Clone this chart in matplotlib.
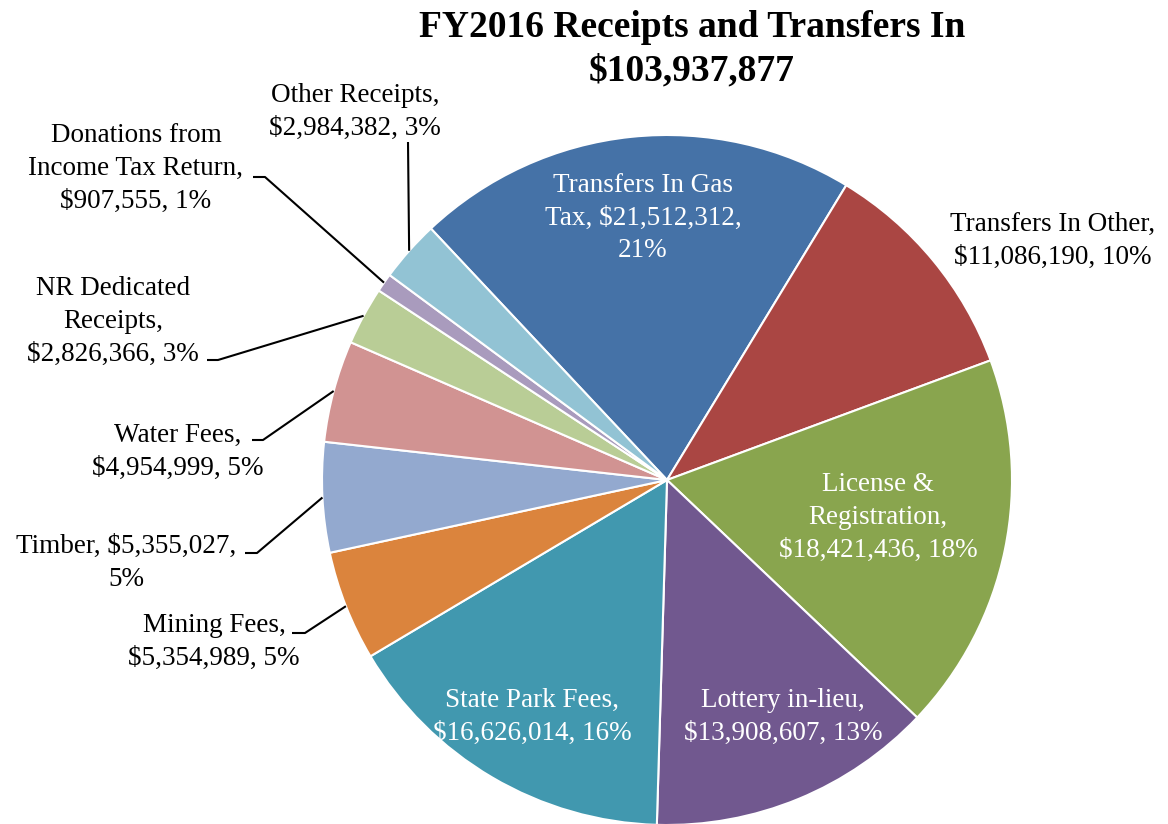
import matplotlib
matplotlib.use("Agg")
import matplotlib.pyplot as plt
import numpy as np

# data
names = ["Transfers In Gas\nTax", "Transfers In Other", "License &\nRegistration",
         "Lottery in-lieu", "State Park Fees", "Mining Fees", "Timber",
         "Water Fees", "NR Dedicated\nReceipts", "Donations from\nIncome Tax Return",
         "Other Receipts"]
values = [21512312, 11086190, 18421436, 13908607, 16626014, 5354989,
          5355027, 4954999, 2826366, 907555, 2984382]
# percentages as printed on the chart
pcts = [21, 10, 18, 13, 16, 5, 5, 5, 3, 1, 3]
colors = ["#4572A7", "#AA4643", "#89A54E", "#71588F", "#4198AF", "#DB843D",
          "#93A9CF", "#D19392", "#B9CD96", "#A99BBD", "#92C3D4"]
total = sum(values)

W, H = 1168, 824
cx, cy, R = 667, 480, 345

fig = plt.figure(figsize=(W / 100, H / 100), dpi=100)
ax = fig.add_axes([0, 0, 1, 1])

def Y(y):
    return H - y

wedges, _ = ax.pie(values, colors=colors, startangle=133.2, counterclock=False,
                   center=(cx, Y(cy)), radius=R, frame=True,
                   wedgeprops=dict(edgecolor="white", linewidth=1.5))
ax.set_xlim(0, W)
ax.set_ylim(0, H)
ax.set_aspect("equal")
ax.axis("off")

font = dict(family="Liberation Serif", fontsize=19.5, linespacing=1.42,
            ha="center", va="center", multialignment="center")

# labels on the slices (white)
inside = {
    0: (643, 218, "Transfers In Gas\nTax, ${:,},\n{}%"),
    2: (878, 517, "License &\nRegistration,\n${:,}, {}%"),
    3: (783, 717, "Lottery in-lieu,\n${:,}, {}%"),
    4: (532, 717, "State Park Fees,\n${:,}, {}%"),
}
for i, (x, y, fmt) in inside.items():
    ax.text(x, Y(y), fmt.format(values[i], pcts[i]), color="white", **font)

# outside labels (black) with leader lines
outside = {
    1: (1053, 241, "Transfers In Other,\n${:,}, {}%", None),
    5: (214, 642, "Mining Fees,\n${:,}, {}%", (305, 633, 292)),
    6: (126, 563, "Timber, ${:,},\n{}%", (257, 553, 245)),
    7: (178, 452, "Water Fees,\n${:,}, {}%", (263, 440, 252)),
    8: (113, 321, "NR Dedicated\nReceipts,\n${:,}, {}%", (218, 360, 207)),
    9: (136, 168, "Donations from\nIncome Tax Return,\n${:,}, {}%", (265, 177, 253)),
    10: (355, 112, "Other Receipts,\n${:,}, {}%", (408, 142, 408)),
}
for i, (x, y, fmt, ld) in outside.items():
    ax.text(x, Y(y), fmt.format(values[i], pcts[i]), color="black", **font)
    if ld is not None:
        w = wedges[i]
        mid = np.deg2rad((w.theta1 + w.theta2) / 2)
        sx = cx + R * np.cos(mid)
        sy = Y(cy) + R * np.sin(mid)
        ex, ey, tx = ld
        ax.plot([sx, ex, tx], [sy, Y(ey), Y(ey)], color="black", lw=1.5,
                solid_capstyle="butt")

fig.text(692 / W, 1 - 49 / H, "FY2016 Receipts and Transfers In\n${:,}".format(total),
         family="Liberation Serif", fontsize=27, fontweight="bold", linespacing=1.3,
         ha="center", va="center")

plt.savefig("out.png", dpi=100)
